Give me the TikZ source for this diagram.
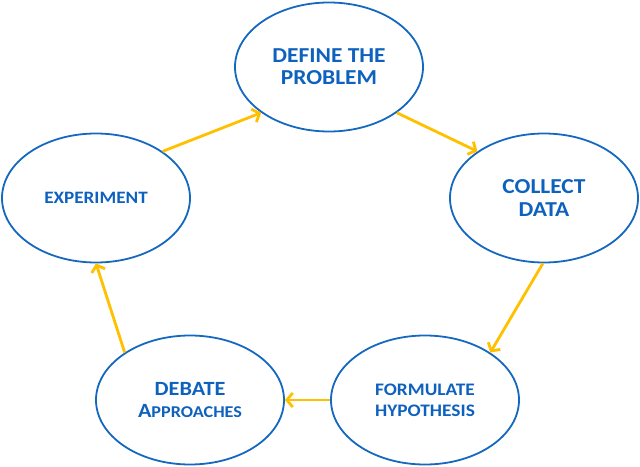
\documentclass[tikz,border=0pt]{standalone}
\usepackage{fontspec}
\setmainfont{Carlito}[FakeStretch=1.1]
\usetikzlibrary{shapes.geometric,arrows.meta}
\definecolor{cblue}{RGB}{21,104,192}
\definecolor{tblue}{RGB}{14,98,190}
\definecolor{cgold}{RGB}{255,192,0}
\tikzset{
  stage/.style={ellipse, draw=cblue, line width=1.8pt, minimum width=188pt, minimum height=129pt, inner sep=0pt, align=center, text=tblue, font=\bfseries},
  flow/.style={draw=cgold, line width=2.8pt, -{Straight Barb[length=6pt,width=14pt,line width=2.8pt]}}
}
\begin{document}
\begin{tikzpicture}[x=1pt,y=-1pt]
\useasboundingbox (0,0) rectangle (640,466);
\node[stage, font=\fontsize{21.3}{22}\selectfont\bfseries] (def) at (329,67) {DEFINE THE\\PROBLEM};
\node[stage, font=\fontsize{21.3}{23}\selectfont\bfseries] (col) at (544,198) {COLLECT\\DATA};
\node[stage, font=\fontsize{17.6}{21}\selectfont\bfseries] (form) at (425,400) {FORMULATE\\HYPOTHESIS};
\node[stage, font=\fontsize{20.2}{22}\selectfont\bfseries] (deb) at (190,400) {DEBATE\\{\fontsize{20.2}{22}\selectfont A}{\fontsize{16.5}{22}\selectfont PPROACHES}};
\node[stage, font=\fontsize{17.4}{20}\selectfont\bfseries] (exp) at (96,198) {EXPERIMENT};
\draw[flow] (exp.35) -- (def.214);
\draw[flow] (def.-34) -- (col.145);
\draw[flow] (col.-91) -- (form.36);
\draw[flow] (form.180) -- (deb.0);
\draw[flow] (deb.144) -- (exp.-90);
\end{tikzpicture}
\end{document}
